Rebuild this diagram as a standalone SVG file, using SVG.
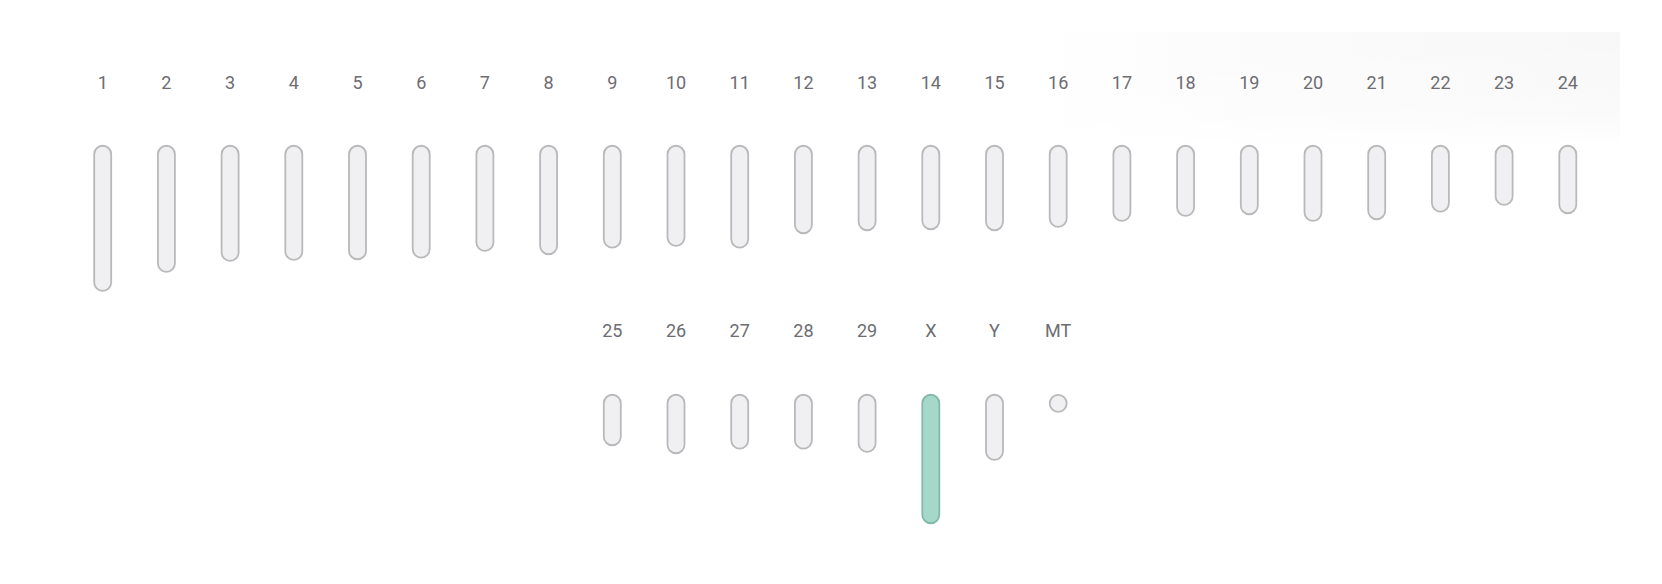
<svg xmlns="http://www.w3.org/2000/svg" width="1662" height="584" viewBox="0 0 1662 584">
<style>
.lbl{font-family:Roboto,"Liberation Sans",sans-serif;font-size:18px;fill:#6d6d72;text-anchor:middle}
.chr{fill:#f0f0f2;stroke:#b9b9bb;stroke-width:1.8}
.hl{fill:#a6d8ca;stroke:#82b9aa;stroke-width:1.8}
</style>
<defs>
<linearGradient id="bg" x1="0" y1="0" x2="1" y2="0">
<stop offset="0" stop-color="#f8f8f8" stop-opacity="0"/>
<stop offset="0.4" stop-color="#f8f8f8" stop-opacity="0.6"/>
<stop offset="1" stop-color="#f7f7f7" stop-opacity="0.9"/>
</linearGradient>
<linearGradient id="bgv" x1="0" y1="0" x2="0" y2="1">
<stop offset="0" stop-color="#fff" stop-opacity="0"/>
<stop offset="0.7" stop-color="#fff" stop-opacity="0.3"/>
<stop offset="1" stop-color="#fff" stop-opacity="0.9"/>
</linearGradient>
</defs>
<rect width="1662" height="584" fill="#ffffff"/>
<rect x="1040" y="32" width="580" height="112" fill="url(#bg)"/>
<rect x="1040" y="32" width="580" height="112" fill="url(#bgv)"/>
<g id="labels">
<text class="lbl" x="102.7" y="89">1</text>
<text class="lbl" x="166.4" y="89">2</text>
<text class="lbl" x="230.1" y="89">3</text>
<text class="lbl" x="293.8" y="89">4</text>
<text class="lbl" x="357.5" y="89">5</text>
<text class="lbl" x="421.2" y="89">6</text>
<text class="lbl" x="484.9" y="89">7</text>
<text class="lbl" x="548.6" y="89">8</text>
<text class="lbl" x="612.3" y="89">9</text>
<text class="lbl" x="676.0" y="89">10</text>
<text class="lbl" x="739.7" y="89">11</text>
<text class="lbl" x="803.4" y="89">12</text>
<text class="lbl" x="867.1" y="89">13</text>
<text class="lbl" x="930.8" y="89">14</text>
<text class="lbl" x="994.5" y="89">15</text>
<text class="lbl" x="1058.2" y="89">16</text>
<text class="lbl" x="1121.9" y="89">17</text>
<text class="lbl" x="1185.6" y="89">18</text>
<text class="lbl" x="1249.3" y="89">19</text>
<text class="lbl" x="1313.0" y="89">20</text>
<text class="lbl" x="1376.7" y="89">21</text>
<text class="lbl" x="1440.4" y="89">22</text>
<text class="lbl" x="1504.1" y="89">23</text>
<text class="lbl" x="1567.8" y="89">24</text>
<text class="lbl" x="612.3" y="337">25</text>
<text class="lbl" x="676.0" y="337">26</text>
<text class="lbl" x="739.7" y="337">27</text>
<text class="lbl" x="803.4" y="337">28</text>
<text class="lbl" x="867.1" y="337">29</text>
<text class="lbl" x="930.8" y="337">X</text>
<text class="lbl" x="994.5" y="337">Y</text>
<text class="lbl" x="1058.2" y="337">MT</text>
</g>
<g id="chr1"><rect class="chr" x="94.2" y="145.75" width="17" height="145.2" rx="8.5"/></g>
<g id="chr2"><rect class="chr" x="157.9" y="145.75" width="17" height="126.2" rx="8.5"/></g>
<g id="chr3"><rect class="chr" x="221.6" y="145.75" width="17" height="115.2" rx="8.5"/></g>
<g id="chr4"><rect class="chr" x="285.3" y="145.75" width="17" height="114.2" rx="8.5"/></g>
<g id="chr5"><rect class="chr" x="349" y="145.75" width="17" height="113.5" rx="8.5"/></g>
<g id="chr6"><rect class="chr" x="412.7" y="145.75" width="17" height="111.8" rx="8.5"/></g>
<g id="chr7"><rect class="chr" x="476.4" y="145.75" width="17" height="105.2" rx="8.5"/></g>
<g id="chr8"><rect class="chr" x="540.1" y="145.75" width="17" height="108.5" rx="8.5"/></g>
<g id="chr9"><rect class="chr" x="603.8" y="145.75" width="17" height="101.8" rx="8.5"/></g>
<g id="chr10"><rect class="chr" x="667.5" y="145.75" width="17" height="100.2" rx="8.5"/></g>
<g id="chr11"><rect class="chr" x="731.2" y="145.75" width="17" height="101.8" rx="8.5"/></g>
<g id="chr12"><rect class="chr" x="794.9" y="145.75" width="17" height="87.5" rx="8.5"/></g>
<g id="chr13"><rect class="chr" x="858.6" y="145.75" width="17" height="84.5" rx="8.5"/></g>
<g id="chr14"><rect class="chr" x="922.3" y="145.75" width="17" height="83.5" rx="8.5"/></g>
<g id="chr15"><rect class="chr" x="986" y="145.75" width="17" height="84.5" rx="8.5"/></g>
<g id="chr16"><rect class="chr" x="1049.7" y="145.75" width="17" height="81.2" rx="8.5"/></g>
<g id="chr17"><rect class="chr" x="1113.4" y="145.75" width="17" height="75.2" rx="8.5"/></g>
<g id="chr18"><rect class="chr" x="1177.1" y="145.75" width="17" height="70.2" rx="8.5"/></g>
<g id="chr19"><rect class="chr" x="1240.8" y="145.75" width="17" height="68.5" rx="8.5"/></g>
<g id="chr20"><rect class="chr" x="1304.5" y="145.75" width="17" height="75.2" rx="8.5"/></g>
<g id="chr21"><rect class="chr" x="1368.2" y="145.75" width="17" height="73.5" rx="8.5"/></g>
<g id="chr22"><rect class="chr" x="1431.9" y="145.75" width="17" height="65.8" rx="8.5"/></g>
<g id="chr23"><rect class="chr" x="1495.6" y="145.75" width="17" height="59.2" rx="8.5"/></g>
<g id="chr24"><rect class="chr" x="1559.3" y="145.75" width="17" height="67.5" rx="8.5"/></g>
<g id="chr25"><rect class="chr" x="603.8" y="394.75" width="17" height="50.5" rx="8.5"/></g>
<g id="chr26"><rect class="chr" x="667.5" y="394.75" width="17" height="58.5" rx="8.5"/></g>
<g id="chr27"><rect class="chr" x="731.2" y="394.75" width="17" height="53.8" rx="8.5"/></g>
<g id="chr28"><rect class="chr" x="794.9" y="394.75" width="17" height="53.8" rx="8.5"/></g>
<g id="chr29"><rect class="chr" x="858.6" y="394.75" width="17" height="57.2" rx="8.5"/></g>
<g id="chrX"><rect class="hl" x="922.3" y="394.75" width="17" height="128.5" rx="8.5"/></g>
<g id="chrY"><rect class="chr" x="986" y="394.75" width="17" height="65.2" rx="8.5"/></g>
<g id="chrMT"><circle class="chr" cx="1058.2" cy="403.3" r="8.5"/></g>
<g id="connectors"></g>
</svg>
